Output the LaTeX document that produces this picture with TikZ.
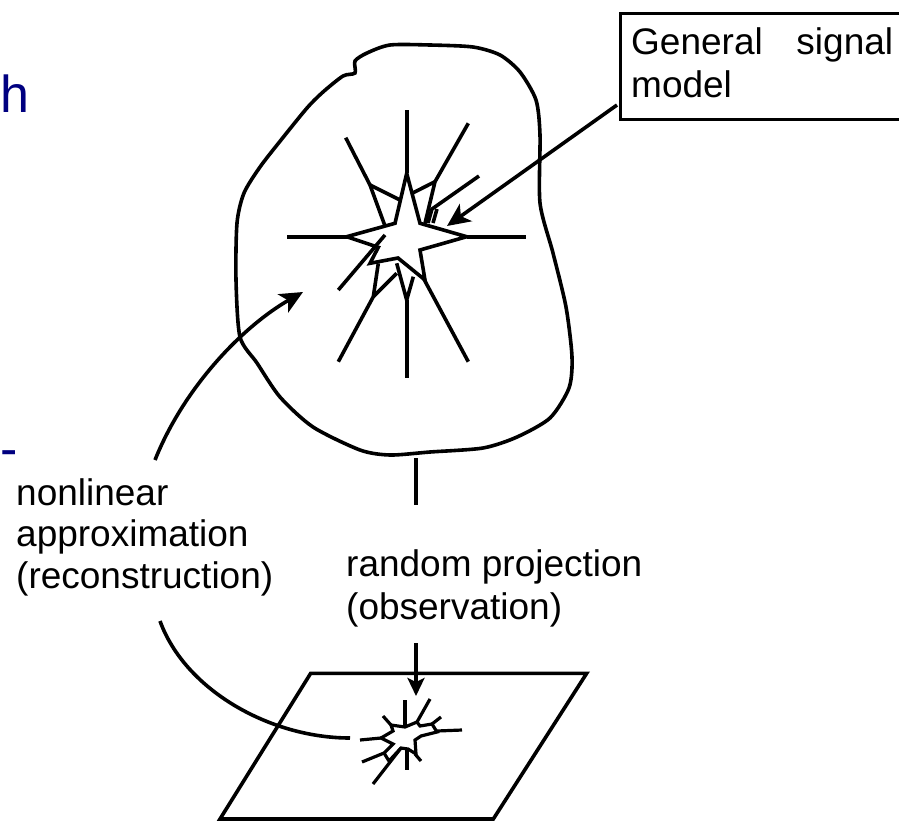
\documentclass[tikz,border=0pt]{standalone}
\usepackage{fontspec}
\setmainfont{Liberation Sans}
\usetikzlibrary{arrows.meta}
\definecolor{slidenavy}{RGB}{0,0,128}
\begin{document}
\begin{tikzpicture}[x=1pt,y=-1pt,
  ink/.style={line width=3.6pt, line join=miter},
  thinink/.style={line width=3.2pt, line join=miter},
  pointer/.style={ink, -{Stealth[length=23pt,width=21pt,inset=6pt]}},
  smallpointer/.style={ink, -{Stealth[length=18pt,width=17pt,inset=4pt]}},
  lbl/.style={inner sep=0pt, anchor=base west, font=\fontsize{37}{42}\selectfont},
  stray/.style={inner sep=0pt, anchor=base west, text=slidenavy, font=\fontsize{52}{60}\selectfont},
  ]
\useasboundingbox (0,0) rectangle (899,822);
\clip (0,0) rectangle (899,822);

% leftover slide text at the left edge
\node[stray] (strayh) at (0,112) {h};
\node[stray] (straydash) at (0,466) {-};

% signal class: irregular blob
\draw[ink] plot[smooth cycle, tension=0.45] coordinates {
  (355,73) (355,61) (367,53) (390,45) (430,45) (473,47) (500,55) (520,72)
  (536,100) (540,135) (540,203) (553,253) (566,307) (572,357) (569,388)
  (550,418) (517,437) (483,448) (430,452) (390,455) (360,450) (313,427)
  (280,397) (257,363) (240,337) (236,280) (237,223) (244,193) (260,167)
  (281,140) (307,108) (323,92) (343,76)};

% general signal model: star with rays
\coordinate (bigstar) at (406.7,236.7);
\draw[ink] (406.7,173.3) -- (395,223.3) -- (346.7,236.7) -- (378.3,247.3)
  -- (370,263.3) -- (398,258) -- (425,280) -- (420,250) -- (466.7,236.7)
  -- (420,223.3) -- cycle;
\draw[ink] (406.7,110) -- (406.7,173.3);
\draw[ink] (345.7,137.7) -- (370,185) -- (385,226);
\draw[ink] (370,185) -- (400,200);
\draw[ink] (468.3,123.3) -- (435,181.7) -- (425,223.3);
\draw[ink] (435,181.7) -- (412,193.3);
\draw[ink] (479,176) -- (432,209) -- (428,223);
\draw[ink] (437,209) -- (433,223);
\draw[ink] (287.3,236.7) -- (346.7,236.7);
\draw[ink] (466.7,236.7) -- (526,236.7);
\draw[ink] (338.3,290) -- (385,235);
\draw[ink] (338.3,361.7) -- (373.3,296.7) -- (378.3,263.3);
\draw[ink] (373.3,296.7) -- (396.7,273.3);
\draw[ink] (396.7,263.3) -- (406.7,300) -- (413.3,276.7);
\draw[ink] (406.7,300) -- (406.7,378.3);
\draw[ink] (468.3,361.7) -- (421.7,275);

% callout box
\node[draw, line width=3.4pt, anchor=north west, minimum width=290pt,
  minimum height=106pt, inner sep=0pt] (modelbox) at (619,12) {};
\node[lbl] (boxline1) at (631,54) {\makebox[262pt][s]{General signal}};
\node[lbl] (boxline2) at (631,97) {model};
\coordinate (boxfoot) at (617,105);
\coordinate (startip) at (447,226);
\draw[pointer] (boxfoot) -- (startip);

% measurement plane
\draw[ink] (310.7,673.3) -- (586.7,673.3) -- (493.3,819) -- (220,819) -- cycle;

% projected star
\coordinate (smallstar) at (408,738);
\draw[thinink] (381,738) -- (393,731) -- (391,725) -- (405,727)
  -- (417,722) -- (420,726) -- (432,724) -- (437,732) -- (421,736)
  -- (415,740) -- (416,754) -- (408,749) -- (401,748) -- (389,761)
  -- (384,753) -- (393,744) -- cycle;
\draw[thinink] (383,716) -- (391,725);
\draw[thinink] (405,700) -- (405,727);
\draw[thinink] (430,699) -- (417,722);
\draw[thinink] (441,717) -- (432,724);
\draw[thinink] (437,731) -- (462,730);
\draw[thinink] (360,740) -- (381,738);
\draw[thinink] (362,762) -- (384,753);
\draw[thinink] (373,784) -- (401,748);
\draw[thinink] (407,750) -- (407,770);
\draw[thinink] (421,761) -- (415,754);

% random projection
\coordinate (projtop) at (416,458);
\coordinate (projmid) at (416,505);
\draw[ink] (projtop) -- (projmid);
\node[lbl] (projline1) at (346,576) {random projection};
\node[lbl] (projline2) at (346,619) {(observation)};
\coordinate (projfrom) at (416,643);
\coordinate (projto) at (416,696);
\draw[smallpointer] (projfrom) -- (projto);

% nonlinear approximation
\node[lbl] (recline1) at (16,505) {nonlinear};
\node[lbl] (recline2) at (16,546) {approximation};
\node[lbl] (recline3) at (16,588) {(reconstruction)};
\coordinate (recstart) at (155,460);
\coordinate (recend) at (303,292);
\draw[pointer] (recstart) .. controls (185,385) and (245,325) .. (recend);
\coordinate (lowstart) at (160,621);
\coordinate (lowend) at (350,738);
\draw[ink] (lowstart) .. controls (185,690) and (270,738) .. (lowend);
\end{tikzpicture}
\end{document}
